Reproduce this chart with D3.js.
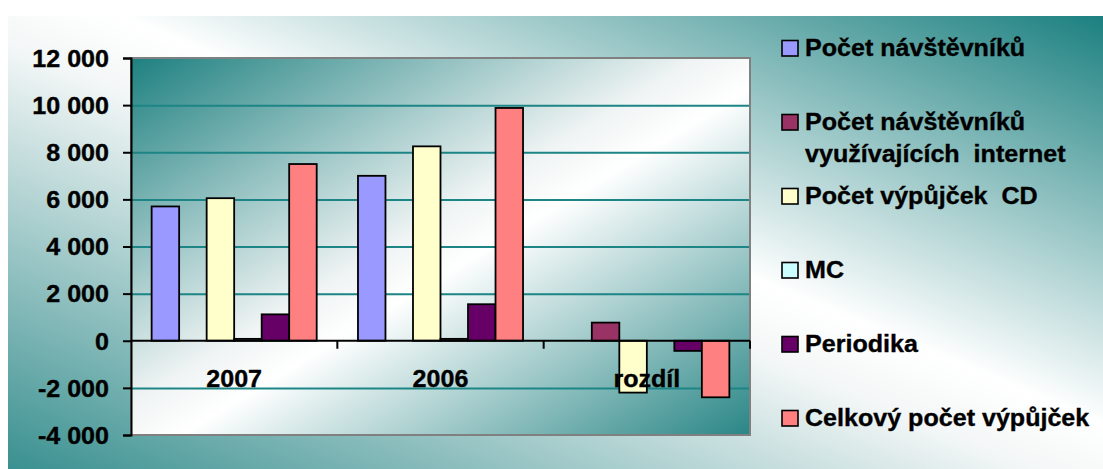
<!DOCTYPE html>
<meta charset="utf-8">
<body style="margin:0;background:#fff">
    <style>
        text { font-family: "Liberation Sans", Arial, sans-serif; font-weight: bold; fill: #000; stroke: #000; stroke-width: 0.35px; }
        .bar { stroke: #000; stroke-width: 1.8px; }
        .grid line { stroke: #1d8585; stroke-width: 2px; }
        .grid path { display: none; }
    </style>
    <script src="https://d3js.org/d3.v7.min.js"></script>
    <script>
        // data
        var categories = ["2007", "2006", "rozdíl"];
        var navstevnici = [5700, 7000, null];
        var internet = [null, null, 770];
        var vypujckyCD = [6050, 8250, -2200];
        var mc = [80, 80, null];
        var periodika = [1120, 1550, -430];
        var celkem = [7500, 9880, -2400];

        var seriesNames = ["Počet návštěvníků", "Počet návštěvníků využívajících  internet",
                           "Počet výpůjček  CD", "MC", "Periodika", "Celkový počet výpůjček"];
        // legend lines (second entry wraps)
        var legendLines = [["Počet návštěvníků"], ["Počet návštěvníků", "využívajících  internet"],
                           ["Počet výpůjček  CD"], ["MC"], ["Periodika"], ["Celkový počet výpůjček"]];
        var seriesColors = ["#9999ff", "#993366", "#ffffcc", "#ccffff", "#660066", "#ff8080"];
        var seriesValues = [navstevnici, internet, vypujckyCD, mc, periodika, celkem];
        var yTicks = [-4000, -2000, 0, 2000, 4000, 6000, 8000, 10000, 12000];

        var W = 1103, H = 469;
        var plot = {left: 131, top: 58, right: 750, bottom: 435};
        var fontSize = 23, stretchK = 1.09;

        var svg = d3.select("body").append("svg")
            .attr("width", W).attr("height", H);

        var defs = svg.append("defs");
        var bg = defs.append("linearGradient").attr("id", "bgGrad")
            .attr("x1", 0).attr("y1", 1).attr("x2", 1).attr("y2", 0);
        bg.append("stop").attr("offset", 0).attr("stop-color", "#3a9090");
        bg.append("stop").attr("offset", 0.47).attr("stop-color", "#f4f7f7");
        bg.append("stop").attr("offset", 0.55).attr("stop-color", "#ffffff");
        bg.append("stop").attr("offset", 1).attr("stop-color", "#1c8080");

        var pg = defs.append("linearGradient").attr("id", "plotGrad")
            .attr("x1", 0).attr("y1", 0).attr("x2", 1).attr("y2", 1);
        pg.append("stop").attr("offset", 0).attr("stop-color", "#1e8080");
        pg.append("stop").attr("offset", 0.46).attr("stop-color", "#f0f4f4");
        pg.append("stop").attr("offset", 0.54).attr("stop-color", "#ffffff");
        pg.append("stop").attr("offset", 1).attr("stop-color", "#2a8686");

        // chart area background
        svg.append("rect").attr("x", 8).attr("y", 16)
            .attr("width", W - 8).attr("height", H - 16)
            .attr("fill", "url(#bgGrad)");

        var y = d3.scaleLinear().domain([-4000, 12000]).range([plot.bottom, plot.top]);
        var x0 = d3.scaleBand().domain(categories).range([plot.left, plot.right]);
        var x1 = d3.scaleBand().domain(d3.range(seriesNames.length))
            .range([0, x0.bandwidth()]).paddingInner(0).paddingOuter(0.75);

        // plot area
        svg.append("rect")
            .attr("x", plot.left).attr("y", plot.top)
            .attr("width", plot.right - plot.left).attr("height", plot.bottom - plot.top)
            .attr("fill", "url(#plotGrad)");

        // gridlines
        svg.append("g").attr("class", "grid")
            .attr("transform", "translate(" + plot.left + ",0)")
            .call(d3.axisLeft(y).tickValues(yTicks.filter(function(d) { return d > -4000 && d < 12000 && d !== 0; }))
                .tickSize(-(plot.right - plot.left)).tickFormat(""));

        // plot border (gray)
        svg.append("rect")
            .attr("x", plot.left).attr("y", plot.top)
            .attr("width", plot.right - plot.left).attr("height", plot.bottom - plot.top)
            .attr("fill", "none").attr("stroke", "#808080").attr("stroke-width", 2);

        // bars
        var rows = [];
        categories.forEach(function(c, ci) {
            seriesValues.forEach(function(vals, si) {
                if (vals[ci] !== null) rows.push({cat: c, s: si, v: vals[ci]});
            });
        });
        svg.append("g").selectAll("rect").data(rows).enter().append("rect")
            .attr("class", "bar")
            .attr("x", function(d) { return x0(d.cat) + x1(d.s); })
            .attr("width", x1.bandwidth())
            .attr("y", function(d) { return y(Math.max(0, d.v)); })
            .attr("height", function(d) { return Math.abs(y(d.v) - y(0)); })
            .attr("fill", function(d) { return seriesColors[d.s]; });

        // zero line with category boundary ticks
        var zero = svg.append("g").attr("transform", "translate(0," + y(0) + ")");
        zero.append("line").attr("x1", plot.left).attr("x2", plot.right)
            .attr("stroke", "#000").attr("stroke-width", 2);
        zero.selectAll(".ct").data(categories).enter().append("line")
            .attr("x1", function(d) { return x0(d) + x0.bandwidth(); })
            .attr("x2", function(d) { return x0(d) + x0.bandwidth(); })
            .attr("y1", 0).attr("y2", 8)
            .attr("stroke", "#000").attr("stroke-width", 2);

        // y axis
        var fmt = d3.formatLocale({decimal: ",", thousands: " ", grouping: [3], currency: ["", ""], minus: "-"}).format(",");
        var yAxis = svg.append("g")
            .attr("transform", "translate(" + plot.left + ",0)")
            .call(d3.axisLeft(y).tickValues(yTicks).tickSize(8).tickPadding(14).tickFormat(fmt));
        yAxis.select(".domain").attr("stroke", "#000").attr("stroke-width", 2);
        yAxis.selectAll(".tick line").attr("stroke", "#000").attr("stroke-width", 2);
        yAxis.selectAll("text").attr("font-size", fontSize)
            .attr("font-family", null).attr("dy", "0.36em");
        yAxis.attr("font-family", null).attr("font-size", null);

        // category labels
        svg.append("g").selectAll("text").data(categories).enter().append("text")
            .attr("x", function(d) { return x0(d) + x0.bandwidth() / 2; })
            .attr("y", y(0) + 46)
            .attr("text-anchor", "middle")
            .attr("font-size", fontSize)
            .text(function(d) { return d; });

        // legend
        var rowStep = 74, lineStep = 31.7, legX = 782, legY0 = 56;
        var leg = svg.append("g");
        legendLines.forEach(function(lines, i) {
            var by = legY0 + i * rowStep;
            leg.append("rect")
                .attr("x", legX).attr("y", by - 15.5)
                .attr("width", 16).attr("height", 15.5)
                .attr("fill", seriesColors[i]).attr("stroke", "#000").attr("stroke-width", 1.6);
            lines.forEach(function(t, li) {
                leg.append("text")
                    .attr("x", legX + 23).attr("y", by + li * lineStep)
                    .attr("font-size", fontSize)
                    .style("white-space", "pre")
                    .text(t);
            });
        });

        // the original text is a little wider than Liberation Sans, stretch it
        svg.selectAll("text").each(function() {
            var w = this.getComputedTextLength();
            d3.select(this).attr("textLength", w * stretchK).attr("lengthAdjust", "spacingAndGlyphs");
        });
    </script>
</body>
